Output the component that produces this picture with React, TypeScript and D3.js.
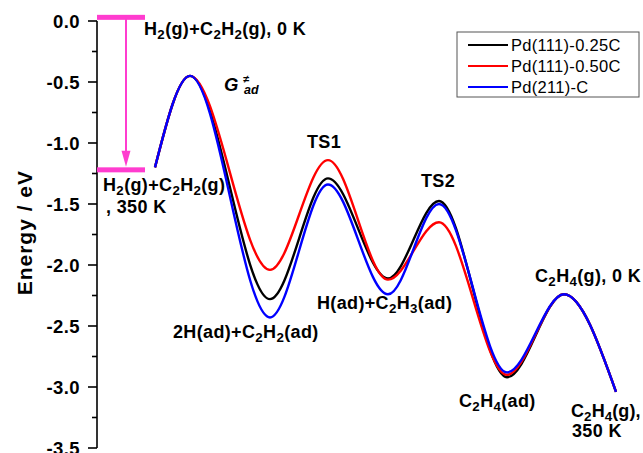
import React from "react";
import * as d3 from "d3";

// Reaction coordinate of each stationary point (arbitrary units)
const stages = [0, 0.35, 1.15, 1.73, 2.33, 2.84, 3.52, 4.09, 4.61];

// Energies (eV) along the acetylene hydrogenation path
const energy025C = [-1.2, -0.45, -2.28, -1.29, -2.11, -1.475, -2.92, -2.24, -3.04];
const energy050C = [-1.2, -0.45, -2.04, -1.14, -2.12, -1.65, -2.9, -2.24, -3.04];
const energy211C = [-1.2, -0.45, -2.43, -1.34, -2.24, -1.5, -2.88, -2.24, -3.04];

const seriesNames = ["Pd(111)-0.25C", "Pd(111)-0.50C", "Pd(211)-C"];
const seriesColors = ["#000000", "#ff0000", "#0000ff"];

// Gas-phase reference levels: H2(g)+C2H2(g) at 0 K and at 350 K
const gasLevels = [0.03, -1.22];
const levelSpan = [-0.58, -0.1];
const arrowAt = -0.29;

const yMajorTicks = [0, -0.5, -1, -1.5, -2, -2.5, -3, -3.5];
const yMinorTicks = [-0.25, -0.75, -1.25, -1.75, -2.25, -2.75, -3.25];

const W = 643;
const H = 453;

const x = d3.scaleLinear().domain([-0.58, 4.61]).range([97, 616]);
const y = d3.scaleLinear().domain([-3.5, 0]).range([448, 21]);

const FONT = "'Liberation Sans', Arial, sans-serif";
const MAGENTA = "#ff3ccf";

// Renders chemical formulae where "_n" means a subscript n
function Chem({ x: px, y: py, text, size = 18, spacing = 0.35, anchor = "start" }: any) {
  const parts = text.split(/(_\d)/).filter((s: string) => s.length > 0);
  const shift = Math.round(size * 0.24);
  let offset = 0;
  return (
    <text
      x={px}
      y={py}
      fontFamily={FONT}
      fontWeight="bold"
      fontSize={size}
      letterSpacing={spacing}
      textAnchor={anchor}
      fill="#000"
    >
      {parts.map((p: string, i: number) => {
        if (p.startsWith("_")) {
          const dy = shift - offset;
          offset = shift;
          return (
            <tspan key={i} dy={dy} fontSize={size * 0.74}>
              {p.slice(1)}
            </tspan>
          );
        }
        const dy = -offset;
        offset = 0;
        return (
          <tspan key={i} dy={dy}>
            {p}
          </tspan>
        );
      })}
    </text>
  );
}

export default function App() {
  const line = d3
    .line<number>()
    .x((_, i) => x(stages[i]))
    .y((d) => y(d))
    .curve(d3.curveMonotoneX);

  const series = [energy025C, energy050C, energy211C];
  const axisX = x(x.domain()[0]);
  const fmt = (v: number) => (v === 0 ? "0.0" : v.toFixed(1));

  const topY = y(gasLevels[0]);
  const lowY = y(gasLevels[1]);
  const arrowX = x(arrowAt);

  return (
    <svg
      width={W}
      height={H}
      style={{ position: "absolute", left: 0, top: 0, background: "#fff" }}
    >
      {/* y axis */}
      <line x1={axisX} x2={axisX} y1={y(0)} y2={y(-3.5)} stroke="#000" strokeWidth={1.6} />
      {yMajorTicks.map((t) => (
        <g key={t}>
          <line x1={axisX - 9} x2={axisX} y1={y(t)} y2={y(t)} stroke="#000" strokeWidth={1.6} />
          <text
            x={80}
            y={y(t) + 6.5}
            textAnchor="end"
            fontFamily={FONT}
            fontWeight="bold"
            fontSize={18.5}
            letterSpacing={0.4}
          >
            {fmt(t)}
          </text>
        </g>
      ))}
      {yMinorTicks.map((t) => (
        <line key={t} x1={axisX - 5} x2={axisX} y1={y(t)} y2={y(t)} stroke="#000" strokeWidth={1.6} />
      ))}
      <text
        transform={`translate(32, ${(y(-1.22) + y(-2.25)) / 2}) rotate(-90)`}
        textAnchor="middle"
        fontFamily={FONT}
        fontWeight="bold"
        fontSize={21}
        letterSpacing={1}
      >
        Energy / eV
      </text>

      {/* gas-phase reference levels and cooling arrow */}
      {gasLevels.map((lv, i) => (
        <rect
          key={i}
          x={x(levelSpan[0])}
          width={x(levelSpan[1]) - x(levelSpan[0])}
          y={y(lv) - 2.5}
          height={5}
          fill={MAGENTA}
        />
      ))}
      <line x1={arrowX} x2={arrowX} y1={topY} y2={lowY - 16} stroke={MAGENTA} strokeWidth={2} />
      <path
        d={`M${arrowX - 4.5},${lowY - 19} L${arrowX + 4.5},${lowY - 19} L${arrowX},${lowY - 3} Z`}
        fill={MAGENTA}
      />

      {/* energy profiles */}
      {series.map((s, i) => (
        <path
          key={i}
          d={line(s) || ""}
          fill="none"
          stroke={seriesColors[i]}
          strokeWidth={2.4}
          strokeLinejoin="round"
        />
      ))}

      {/* state labels */}
      <Chem x={144} y={35} text="H_2(g)+C_2H_2(g), 0 K" />
      <Chem x={103} y={191} text="H_2(g)+C_2H_2(g)" />
      <Chem x={106} y={213} text=", 350 K" />
      <Chem x={307} y={148} text="TS1" />
      <Chem x={421} y={187} text="TS2" />
      <Chem x={173} y={338} text="2H(ad)+C_2H_2(ad)" />
      <Chem x={317} y={309} text="H(ad)+C_2H_3(ad)" />
      <Chem x={535} y={282} text="C_2H_4(g), 0 K" />
      <Chem x={459} y={407} text="C_2H_4(ad)" />
      <Chem x={571} y={417} text="C_2H_4(g)," spacing={0.1} />
      <Chem x={572} y={437} text="350 K" />

      {/* adsorption free-energy barrier label */}
      <text x={224} y={91} fontFamily={FONT} fontWeight="bold" fontStyle="italic" fontSize={18.5}>
        G
      </text>
      <text x={243} y={83} fontFamily={FONT} fontWeight="bold" fontStyle="italic" fontSize={11}>
        ≠
      </text>
      <text x={244} y={94} fontFamily={FONT} fontWeight="bold" fontStyle="italic" fontSize={12.5}>
        ad
      </text>

      {/* legend */}
      <rect x={457} y={32} width={182} height={65} fill="#fff" stroke="#555" strokeWidth={1} />
      {seriesNames.map((n, i) => {
        const ly = 45 + i * 21;
        return (
          <g key={n}>
            <line x1={468} x2={508} y1={ly} y2={ly} stroke={seriesColors[i]} strokeWidth={2} />
            <text x={511} y={ly + 5.5} fontFamily={FONT} fontSize={16.5} letterSpacing={0.3}>
              {n}
            </text>
          </g>
        );
      })}
    </svg>
  );
}
